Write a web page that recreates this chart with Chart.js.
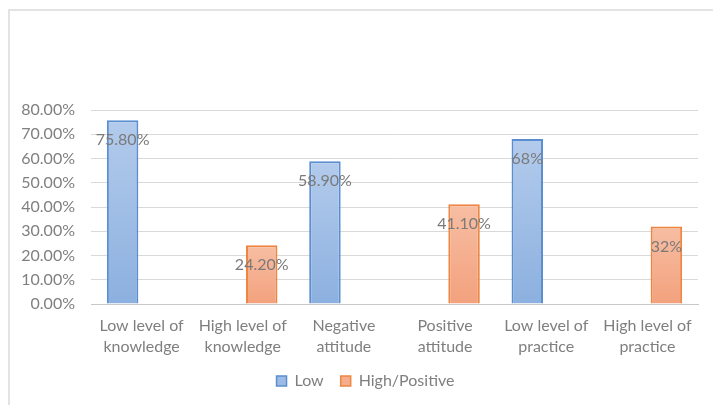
<!DOCTYPE html>
<html>
<head>
<meta charset="utf-8">
<script src="https://cdn.jsdelivr.net/npm/chart.js@4.4.1/dist/chart.umd.min.js"></script>
<style>
  html, body { margin: 0; padding: 0; background: #fff; }
  body { width: 713px; height: 405px; position: relative; overflow: hidden; }
  #frame {
    position: absolute; left: 8px; top: 9px; width: 705px; height: 396px;
    border-top: 2px solid #e3e3e3; border-left: 2px solid #e3e3e3;
    box-sizing: border-box;
  }
  #wrap { position: absolute; left: 9px; top: 10px; width: 704px; height: 395px; }
</style>
</head>
<body>
<div id="frame"></div>
<div id="wrap"><canvas id="c"></canvas></div>
<script>
// Categories (two-line axis labels)
const categories = [
  ["Low level of", "knowledge"],
  ["High level of", "knowledge"],
  ["Negative", "attitude"],
  ["Positive", "attitude"],
  ["Low level of", "practice"],
  ["High level of", "practice"]
];

// Series values, in percent
const lowValues  = [75.8, null, 58.9, null, 68, null];
const highValues = [null, 24.2, null, 41.1, null, 32];

// Value label text shown on each bar
const lowLabels  = ["75.80%", "", "58.90%", "", "68%", ""];
const highLabels = ["", "24.20%", "", "41.10%", "", "32%"];

// Y axis range and step (percent)
const yMax = 80;
const yStep = 10;

const FONT = "Lato";
const GREY = "#7f7f7f";

// vertical gradient across each bar, lighter at the top
function barGradient(top, bottom) {
  return (ctx) => {
    const chart = ctx.chart;
    const v = ctx.raw;
    if (!chart.chartArea || v == null) return bottom;
    const ys = chart.scales.y;
    const y0 = ys.getPixelForValue(v);
    const y1 = ys.getPixelForValue(0);
    const g = chart.ctx.createLinearGradient(0, y0, 0, y1);
    g.addColorStop(0, top);
    g.addColorStop(1, bottom);
    return g;
  };
}

// draws each bar's value text a little below its top edge
const valueLabels = {
  id: "valueLabels",
  afterDatasetsDraw(chart) {
    const ctx = chart.ctx;
    ctx.save();
    ctx.font = "16px " + FONT;
    ctx.fillStyle = "#7a7a7a";
    ctx.textAlign = "center";
    ctx.textBaseline = "middle";
    chart.data.datasets.forEach((ds, di) => {
      const meta = chart.getDatasetMeta(di);
      meta.data.forEach((el, i) => {
        if (ds.data[i] == null) return;
        ctx.fillText(ds.valueText[i], el.x, el.y + 20);
      });
    });
    ctx.restore();
  }
};

// centres the legend under the plot area rather than the whole canvas
const legendShift = {
  id: "legendShift",
  afterLayout(chart) {
    const lg = chart.legend;
    if (!lg) return;
    const dx = 12;
    lg.left += dx;
    lg.right += dx;
  }
};

new Chart(document.getElementById("c"), {
  type: "bar",
  data: {
    labels: categories,
    datasets: [
      {
        label: "Low",
        data: lowValues,
        valueText: lowLabels,
        backgroundColor: barGradient("#b3cbec", "#8cb0df"),
        borderColor: "#5a8ed0",
        borderWidth: 2,
        borderSkipped: "bottom",
        categoryPercentage: 0.75,
        barPercentage: 0.83
      },
      {
        label: "High/Positive",
        data: highValues,
        valueText: highLabels,
        backgroundColor: barGradient("#f7bea3", "#f3a17d"),
        borderColor: "#ee8540",
        borderWidth: 2,
        borderSkipped: "bottom",
        categoryPercentage: 0.75,
        barPercentage: 0.83
      }
    ]
  },
  options: {
    responsive: true,
    maintainAspectRatio: false,
    animation: false,
    layout: { padding: { top: 100, right: 15, bottom: 6, left: 0 } },
    plugins: {
      title: { display: false },
      tooltip: { enabled: false },
      legend: {
        position: "bottom",
        labels: {
          color: GREY,
          font: { family: FONT, size: 16 },
          boxWidth: 10,
          boxHeight: 10,
          padding: 17,
          generateLabels(chart) {
            return chart.data.datasets.map((ds, i) => ({
              text: ds.label,
              fillStyle: i === 0 ? "#9dbce5" : "#f5ad8c",
              strokeStyle: ds.borderColor,
              lineWidth: 1.5,
              fontColor: GREY,
              datasetIndex: i,
              hidden: false
            }));
          }
        }
      }
    },
    scales: {
      x: {
        grid: { display: false, drawTicks: false },
        border: { display: true, color: "#c8c8c8", width: 1 },
        ticks: {
          color: GREY,
          font: { family: FONT, size: 16, lineHeight: 1.27 },
          padding: 12,
          maxRotation: 0,
          autoSkip: false
        },
        afterFit(scale) { scale.height = 52; }
      },
      y: {
        min: 0,
        max: yMax,
        grid: { color: "#d9d9d9", lineWidth: 1, drawTicks: false },
        border: { display: false },
        ticks: {
          stepSize: yStep,
          color: GREY,
          font: { family: FONT, size: 16 },
          padding: 16,
          callback: (v) => v.toFixed(2) + "%"
        },
        afterFit(scale) { scale.width = 82; }
      }
    }
  },
  plugins: [valueLabels, legendShift]
});
</script>
</body>
</html>
